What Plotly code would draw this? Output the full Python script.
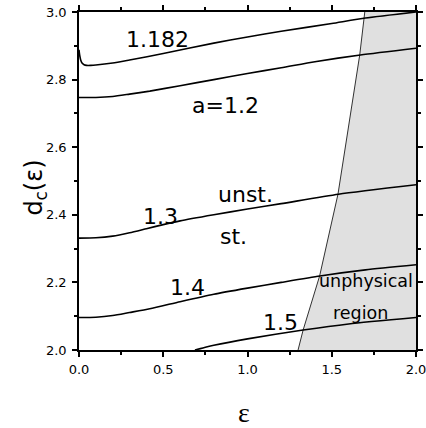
import plotly.graph_objects as go

# curve a=1.182
x1182 = [0.0, 0.004, 0.01, 0.018, 0.03, 0.045, 0.07, 0.1, 0.2, 0.3, 0.5, 0.8, 1.0, 1.2, 1.5, 1.7, 2.0]
y1182 = [2.888, 2.872, 2.858, 2.849, 2.844, 2.842, 2.842, 2.843, 2.849, 2.858, 2.877, 2.908, 2.926, 2.943, 2.966, 2.982, 3.0]
# curve a=1.2
x12 = [0.0, 0.1, 0.2, 0.3, 0.42, 0.6, 0.8, 1.0, 1.2, 1.4, 1.67, 2.0]
y12 = [2.747, 2.747, 2.750, 2.757, 2.766, 2.782, 2.800, 2.818, 2.835, 2.853, 2.873, 2.893]
# curve a=1.3
x13 = [0.0, 0.1, 0.2, 0.3, 0.4, 0.5, 0.6, 0.8, 1.0, 1.2, 1.54, 2.0]
y13 = [2.331, 2.332, 2.337, 2.347, 2.359, 2.371, 2.382, 2.400, 2.417, 2.433, 2.461, 2.489]
# curve a=1.4
x14 = [0.0, 0.1, 0.2, 0.3, 0.42, 0.6, 0.8, 1.0, 1.2, 1.43, 1.7, 2.0]
y14 = [2.096, 2.097, 2.102, 2.111, 2.122, 2.143, 2.165, 2.183, 2.200, 2.219, 2.237, 2.252]
# curve a=1.5
x15 = [0.688, 0.72, 0.75, 0.8, 1.0, 1.33, 1.6, 2.0]
y15 = [2.0, 2.004, 2.008, 2.014, 2.033, 2.059, 2.077, 2.096]
# unphysical region boundary
xb = [1.30, 1.33, 1.428, 1.537, 1.666, 1.696]
yb = [2.0, 2.059, 2.219, 2.461, 2.873, 3.0]

fig = go.Figure()
fig.add_trace(go.Scatter(x=xb + [2.0, 2.0], y=yb + [3.0, 2.0], fill="toself",
                         fillcolor="#e0e0e0", line=dict(width=0), mode="lines",
                         hoverinfo="skip", showlegend=False))
fig.add_trace(go.Scatter(x=xb, y=yb, mode="lines", line=dict(color="black", width=0.8),
                         showlegend=False))
for xs, ys in [(x1182, y1182), (x12, y12), (x13, y13), (x14, y14), (x15, y15)]:
    fig.add_trace(go.Scatter(x=xs, y=ys, mode="lines", line=dict(color="black", width=1.6,
                             shape="spline", smoothing=0.6), showlegend=False))

font = "DejaVu Sans, sans-serif"
anns = [
    ("1.182", 0.466, 2.918, 22), ("a=1.2", 0.872, 2.722, 22), ("unst.", 0.988, 2.460, 22),
    ("st.", 0.914, 2.337, 22), ("1.3", 0.481, 2.396, 22), ("1.4", 0.641, 2.184, 22),
    ("1.5", 1.193, 2.080, 22), ("unphysical", 1.703, 2.204, 17.5), ("region", 1.668, 2.110, 17.5),
]
for t, x, y, s in anns:
    fig.add_annotation(x=x, y=y, text=t, showarrow=False, xanchor="center", yanchor="middle",
                       font=dict(family=font, size=s, color="black"))

# axis titles
fig.add_annotation(xref="paper", yref="paper", x=-0.128, y=0.48, text="d<sub>c</sub>(ε)",
                   textangle=-90, showarrow=False, xanchor="center", yanchor="middle",
                   font=dict(family=font, size=24, color="black"))
fig.add_annotation(xref="paper", yref="paper", x=0.49, y=-0.185, text="ε", showarrow=False,
                   xanchor="center", yanchor="middle",
                   font=dict(family="Liberation Serif, serif", size=28, color="black"))

axis_common = dict(showline=True, linecolor="black", linewidth=1.5, mirror="allticks",
                   ticks="outside", ticklen=5, tickwidth=1.5, tickcolor="black",
                   showgrid=False, zeroline=False, automargin=False, ticklabeloverflow="allow",
                   tickfont=dict(family=font, size=13, color="black"))
minor_x = dict(dtick=0.25, ticks="outside", ticklen=3, tickwidth=1.5, tickcolor="black", showgrid=False)
minor_y = dict(dtick=0.1, ticks="outside", ticklen=3, tickwidth=1.5, tickcolor="black", showgrid=False)
fig.update_layout(
    xaxis=dict(range=[0, 2], dtick=0.5, tickformat=".1f", ticklabelstandoff=2, minor=minor_x, **axis_common),
    yaxis=dict(range=[2, 3], dtick=0.2, tickformat=".1f", ticklabelstandoff=3, minor=minor_y, **axis_common),
    width=426, height=428, margin=dict(l=79, r=10, t=12, b=78),
    plot_bgcolor="white", paper_bgcolor="white", showlegend=False,
)
# remove the browser's default 8px body margin so the figure fills the window
fig.write_html("out.html", config={"displayModeBar": False},
               post_script="document.body.style.margin='0';document.body.style.overflow='hidden';")
